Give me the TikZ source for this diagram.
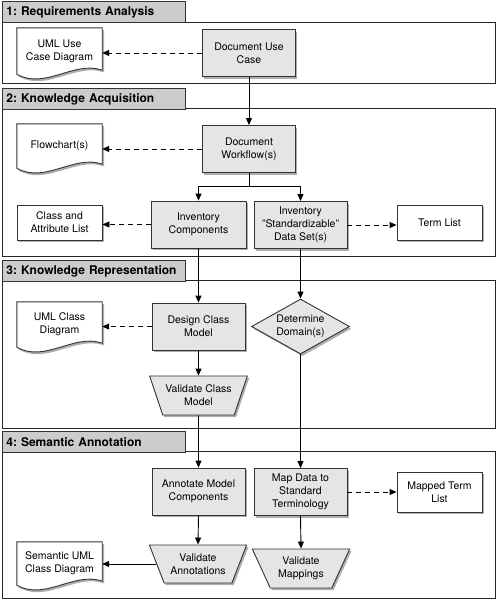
\documentclass[tikz,border=0pt]{standalone}
\usepackage{fontspec}
\setmainfont{TeX Gyre Heros}
\usetikzlibrary{shapes.geometric,shadows,arrows.meta}
\pgfdeclarelayer{background}
\pgfsetlayers{background,main}
\frenchspacing
\tikzset{
  shad/.style={drop shadow={shadow xshift=1.8pt,shadow yshift=-2.2pt,opacity=0.45,fill=black!70}},
  txt/.style={font=\fontsize{10.5}{13}\selectfont, align=center, text=black},
  proc/.style={txt, shad, draw=black!80, line width=0.9pt, fill=black!10, minimum width=93pt, minimum height=47pt, inner sep=1pt},
  plainbox/.style={txt, shad, draw=black!80, line width=0.9pt, fill=white, minimum width=85pt, inner sep=1pt},
  docnode/.style={txt, minimum width=85pt, inner sep=1pt},
  docline/.style={draw=black!80, line width=0.9pt, fill=white, shad},
  trap/.style={txt, shad, trapezium, shape border rotate=180, trapezium left angle=60, trapezium right angle=60, trapezium stretches=true, draw=black!80, line width=0.9pt, fill=black!10, minimum width=98pt, minimum height=39pt, inner sep=0pt},
  dia/.style={txt, shad, diamond, aspect=1.8, draw=black!80, line width=0.9pt, fill=black!10, minimum width=98pt, minimum height=55pt, inner sep=0pt},
  tab/.style={draw=black!80, line width=0.8pt, fill=black!20, minimum height=21pt, text width=175pt, inner xsep=4pt, inner ysep=0pt, align=left, anchor=north west, font=\bfseries\fontsize{12}{14}\selectfont},
  secbox/.style={draw=black!85, line width=0.8pt},
  arr/.style={-{Triangle[length=7pt,width=6pt]}, line width=0.9pt, black},
  darr/.style={arr, dash pattern=on 5pt off 4pt},
}
\newcommand\mydocshape[1]{%
  \begin{pgfonlayer}{background}
  \path[docline] (#1.north west) -- (#1.north east) -- ([yshift=4pt]#1.south east)
    .. controls ([xshift=-28pt,yshift=14pt]#1.south east) and ([xshift=28pt,yshift=-16pt]#1.south west) .. (#1.south west) -- cycle;
  \end{pgfonlayer}}
\begin{document}
\begin{tikzpicture}[x=1pt,y=-1pt]
\useasboundingbox (0,0) rectangle (497,600);
% sections
\draw[secbox] (2,22) rectangle (495,83);
\node[tab] (t1) at (2,1) {1: Requirements Analysis};
\draw[secbox] (2,108) rectangle (495,256);
\node[tab] (t2) at (2,88) {2: Knowledge Acquisition};
\draw[secbox] (2,280) rectangle (495,428);
\node[tab] (t3) at (2,260) {3: Knowledge Representation};
\draw[secbox] (2,451) rectangle (495,598);
\node[tab] (t4) at (2,431) {4: Semantic Annotation};

% section 1
\node[proc] (duc) at (249,53) {Document Use\\Case};
\node[docnode, minimum height=46pt] (ucd) at (59.5,51) {UML Use\\Case Diagram};
\mydocshape{ucd}

% section 2
\node[proc] (dwf) at (249,149) {Document\\Workflow(s)};
\node[docnode, minimum height=44pt] (flow) at (59.5,146) {Flowchart(s)};
\mydocshape{flow}
\node[proc, minimum width=95pt] (ic) at (198.5,224.5) {Inventory\\Components};
\node[proc] (isd) at (300.5,225) {Inventory\\"Standardizable"\\Data Set(s)};
\node[plainbox, minimum height=35pt] (cal) at (59.5,222.5) {Class and\\Attribute List};
\node[plainbox, minimum height=35pt] (tl) at (439.5,222.5) {Term List};
\coordinate (fk) at (249,186);

% section 3
\node[proc] (dcm) at (198.5,326.5) {Design Class\\Model};
\node[docnode, minimum height=45pt] (ucd2) at (59.5,324.5) {UML Class\\Diagram};
\mydocshape{ucd2}
\node[dia] (dd) at (300.5,326.5) {Determine\\Domain(s)};
\node[trap] (vcm) at (198.5,395.5) {Validate Class\\Model};

% section 4
\node[proc] (amc) at (198.5,491.5) {Annotate Model\\Components};
\node[proc] (mdst) at (300.5,492) {Map Data to\\Standard\\Terminology};
\node[plainbox, minimum height=40pt] (mtl) at (439.5,492) {Mapped Term\\List};
\node[trap, minimum height=38pt] (va) at (198,564) {Validate\\Annotations};
\node[trap] (vm) at (301,568.5) {Validate\\Mappings};
\node[docnode, minimum height=43pt] (sucd) at (59.5,563.5) {Semantic UML\\Class Diagram};
\mydocshape{sucd}

% connectors
\draw[darr] (duc.west) -- (duc.west -| ucd.east);
\draw[arr] (duc.south) -- (dwf.north);
\draw[darr] (dwf.west) -- (dwf.west -| flow.east);
\draw[line width=0.9pt] (dwf.south) -- (fk);
\draw[arr] (fk) -| (ic.north);
\draw[arr] (fk) -| (isd.north);
\draw[darr] (ic.west) -- (ic.west -| cal.east);
\draw[darr] (isd.east) -- (isd.east -| tl.west);
\draw[arr] (ic.south) -- (dcm.north);
\draw[arr] (isd.south) -- (dd.north);
\draw[darr] (dcm.west) -- (dcm.west -| ucd2.east);
\draw[arr] (dcm.south) -- (vcm.north);
\draw[arr] (vcm.south) -- (amc.north);
\draw[arr] (dd.south) -- (mdst.north);
\draw[darr] (mdst.east) -- (mdst.east -| mtl.west);
\draw[arr] (amc.south) -- (va.north);
\draw[arr] (mdst.south) -- (vm.north);
\draw[arr] (va.west) -- (va.west -| sucd.east);
\end{tikzpicture}
\end{document}
